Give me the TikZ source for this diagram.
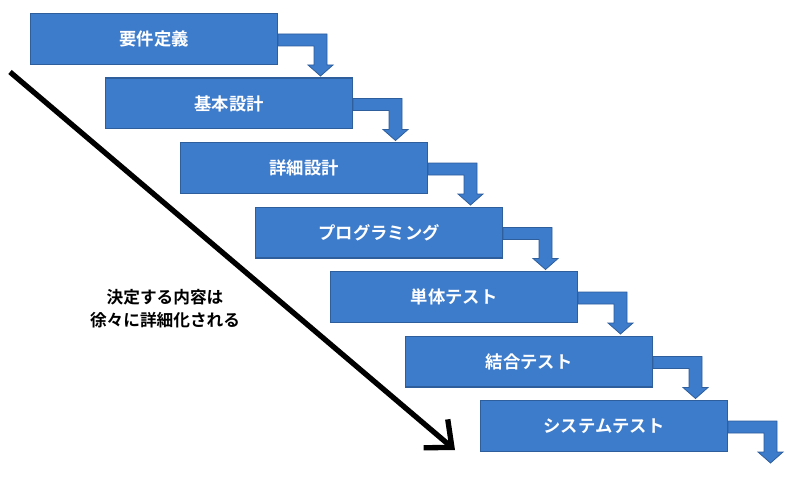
\documentclass[tikz,border=0pt]{standalone}
\usepackage{fontspec}
\newfontfamily\jp{Noto Sans CJK JP Bold}
\usetikzlibrary{arrows.meta,calc}
\definecolor{stepblue}{HTML}{3D7BCB}
\definecolor{stepedge}{HTML}{2E5E9C}
\tikzset{
  phase/.style={draw=stepedge, line width=1pt, fill=stepblue, text=white,
    minimum width=185pt, minimum height=38pt, inner sep=0pt, anchor=north west,
    font=\jp\fontsize{13}{15}\selectfont},
  flow/.style={draw=stepedge, line width=0.6pt, fill=stepblue}
}
\begin{document}
\begin{tikzpicture}[x=0.75pt,y=-0.75pt]
  \useasboundingbox (0,0) rectangle (800,478);
  \foreach \name [count=\i from 0] in {要件定義,基本設計,詳細設計,プログラミング,単体テスト,結合テスト,システムテスト}{
    \node[phase] (p\i) at (30+75*\i,13+64.5*\i) {\name};
    % bent arrow to the next phase
    \draw[flow] ($(p\i.north east)+(0,21)$) -- ++(49,0) -- ++(0,31) -- ++(6,0)
      -- ++(-12.5,11) -- ++(-12.5,-11) -- ++(6,0) -- ++(0,-19) -- ++(-36,0) -- cycle;
  }
  \coordinate (s) at (10,72);
  \coordinate (e) at (455,450);
  \draw[line width=4pt, -{Straight Barb[length=16pt,width=28pt,line width=4pt]}] (s) -- (e);
  \node[font=\jp\fontsize{12.5}{17}\selectfont, align=center] (note) at (165,309)
    {決定する内容は\\徐々に詳細化される};
\end{tikzpicture}
\end{document}
